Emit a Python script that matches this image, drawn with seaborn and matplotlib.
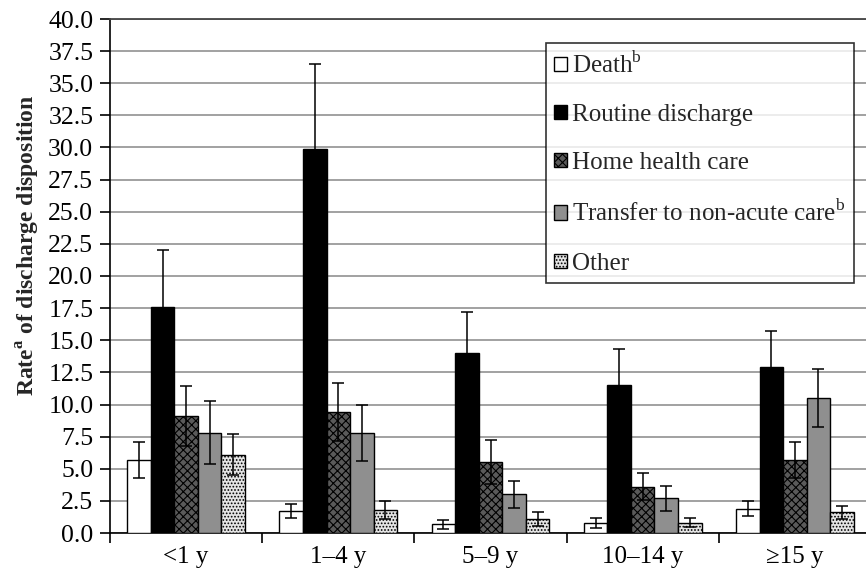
import numpy as np
import pandas as pd
import matplotlib
matplotlib.use("Agg")
import matplotlib.pyplot as plt
import seaborn as sns
from matplotlib.ticker import FixedLocator

sns.set_style("white")
plt.rcParams['font.family'] = ['Liberation Serif', 'DejaVu Serif']
plt.rcParams['mathtext.fontset'] = 'custom'
plt.rcParams['mathtext.rm'] = 'Liberation Serif'
plt.rcParams['mathtext.bf'] = 'Liberation Serif:bold'
plt.rcParams['hatch.linewidth'] = 0.8

ages = ["<1 y", "1\u20134 y", "5\u20139 y", "10\u201314 y", "\u226515 y"]
dispositions = ["Death$^{\\rm b}$", "Routine discharge", "Home health care",
                "Transfer to non-acute care$^{\\rm b}$", "Other"]

death = [5.7, 1.7, 0.7, 0.8, 1.9]
routine = [17.6, 29.9, 14.0, 11.5, 12.9]
home = [9.1, 9.4, 5.5, 3.6, 5.7]
transfer = [7.8, 7.8, 3.0, 2.7, 10.5]
other = [6.1, 1.8, 1.1, 0.8, 1.6]

death_err = [1.4, 0.55, 0.35, 0.4, 0.6]
routine_err = [4.4, 6.6, 3.2, 2.8, 2.8]
home_err = [2.35, 2.25, 1.7, 1.05, 1.4]
transfer_err = [2.45, 2.2, 1.05, 0.95, 2.25]
other_err = [1.6, 0.7, 0.55, 0.35, 0.5]

series = [death, routine, home, transfer, other]
errs = [death_err, routine_err, home_err, transfer_err, other_err]

rows = []
for d, vals, es in zip(dispositions, series, errs):
    for a, v, e in zip(ages, vals, es):
        rows.append({"age": a, "disp": d, "rate": v, "err": e})
df = pd.DataFrame(rows)

faces = ["white", "black", "#5a5a5a", "#8f8f8f", "#e4e4e4"]
hatches = [None, None, "xxxx", None, "....."]

fig = plt.figure(figsize=(8.66, 5.73), dpi=100)
ax = fig.add_axes([110/866, 1-533/573, (871-110)/866, (533-19)/573])

sns.barplot(data=df, x="age", y="rate", hue="disp", order=ages, hue_order=dispositions,
            palette=faces, width=0.775, errorbar=None, edgecolor="black",
            linewidth=1.0, saturation=1, ax=ax, zorder=3)

bar_containers = list(ax.containers)
for i, container in enumerate(bar_containers):
    es = errs[i]
    xs = []
    ys = []
    for bar in container:
        if hatches[i]:
            bar.set_hatch(hatches[i])
        xs.append(bar.get_x() + bar.get_width() / 2)
        ys.append(bar.get_height())
    ax.errorbar(xs, ys, yerr=es, fmt="none", ecolor="black", elinewidth=1.1,
                capsize=4, capthick=1.1, zorder=4)

ax.set_ylim(0, 40)
ax.set_xlim(-0.5, 4.5)
yt = np.arange(0, 40.1, 2.5)
ax.set_yticks(yt)
ax.set_yticklabels([f"{v:.1f}" for v in yt])
ax.yaxis.grid(True, color="#9a9a9a", linewidth=1.3, zorder=0)
ax.set_axisbelow(True)
ax.xaxis.set_minor_locator(FixedLocator(np.arange(-0.5, 5.0, 1.0)))
ax.tick_params(axis="x", which="major", length=0, labelsize=18, pad=9, colors="black")
ax.tick_params(axis="x", which="minor", length=7, width=1.2, direction="out", color="black",
               bottom=True)
ax.tick_params(axis="y", which="major", length=7, width=1.2, direction="out", labelsize=18.5,
               left=True, colors="black", pad=5)
for s in ["left", "bottom"]:
    ax.spines[s].set_color("black")
    ax.spines[s].set_linewidth(1.2)
ax.spines["top"].set_color("#444444")
ax.spines["top"].set_linewidth(1.3)
ax.spines["right"].set_visible(False)

ax.set_xlabel("")
ax.set_ylabel("Rate$^{\\mathbf{a}}$ of discharge disposition", fontsize=17,
              fontweight="bold")
ax.yaxis.set_label_coords(-0.089, 0.56)

leg = ax.legend(loc="upper right", bbox_to_anchor=((854-110)/761, (533-43)/514),
                fontsize=18, frameon=True, fancybox=False, edgecolor="black",
                handlelength=0.5, handleheight=0.5, handletextpad=0.2,
                labelspacing=1.05, borderpad=0.35, borderaxespad=0)
leg.get_frame().set_linewidth(1.2)
for h, hatch in zip(leg.legend_handles, hatches):
    if hatch:
        h.set_hatch(hatch)

fig.savefig("out.png", dpi=100)
